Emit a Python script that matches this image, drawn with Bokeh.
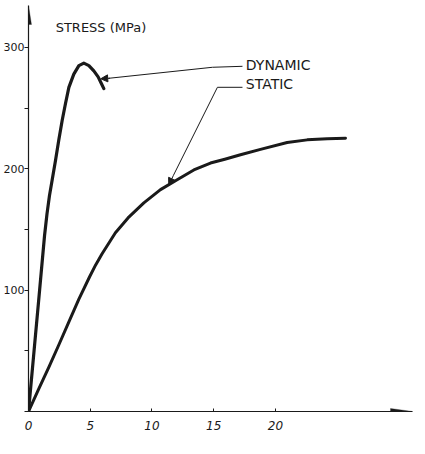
from bokeh.plotting import figure
from bokeh.models import Range1d, FixedTicker, Label, Arrow, NormalHead, PolyAnnotation
from bokeh.embed import file_html
from bokeh.resources import INLINE

# ---- data (strain %, stress MPa) ----
dyn_strain = [0, 0.45, 0.9, 1.3, 1.5, 1.7, 1.92, 2.19, 2.46, 2.73, 3.0, 3.27, 3.67,
              4.08, 4.48, 4.89, 5.29, 5.64, 5.91, 6.1]
dyn_stress = [0, 50, 100, 145, 163, 178, 191, 207, 224, 240, 254, 267, 278,
              285, 287, 285, 280.6, 275.7, 270, 266]

sta_strain = [0, 0.84, 1.65, 2.46, 3.27, 4.08, 4.95, 5.45, 5.96, 7.04, 8.06, 9.34, 10.69,
              12.04, 13.39, 14.74, 15.9, 17.17, 18.79, 20.95, 22.57, 24.19, 25.67]
sta_stress = [0, 18.9, 36.5, 55.0, 73.8, 92.6, 111.0, 121.0, 130.0, 147.3, 159.5, 171.9, 182.8,
              191, 199, 204.7, 207.8, 211.5, 216, 221.6, 223.8, 224.8, 225.2]

x_ticks = [0, 5, 10, 15, 20]
y_ticks = [0, 50, 100, 150, 200, 250, 300]
y_labels = {0: "", 50: "", 100: "100", 150: "", 200: "200", 250: "", 300: "300"}

XMAX = 31.1
YMAX = 334.5

FONT = "DejaVu Sans"
INK = "#1a1a1a"

p = figure(width=420, height=450,
           x_range=Range1d(0, XMAX), y_range=Range1d(0, YMAX),
           output_backend="svg", toolbar_location=None,
           min_border_left=0, min_border_right=8,
           min_border_top=5, min_border_bottom=39)
p.outline_line_color = None
p.xgrid.visible = False
p.ygrid.visible = False
p.background_fill_color = "white"
p.border_fill_color = "white"

# axes
for ax in (p.xaxis[0], p.yaxis[0]):
    ax.axis_line_color = INK
    ax.axis_line_width = 1.2
    ax.major_tick_line_color = INK
    ax.minor_tick_line_color = None
    ax.major_label_text_font = FONT
    ax.major_label_text_color = INK
    ax.major_label_text_font_size = "11px"

p.xaxis.ticker = FixedTicker(ticks=x_ticks)
p.xaxis.major_tick_in = 3
p.xaxis.major_tick_out = 0
p.xaxis.major_label_standoff = 9
p.xaxis.major_label_text_font_style = "italic"
p.xaxis.major_label_text_font_size = "12px"

p.yaxis.ticker = FixedTicker(ticks=y_ticks)
p.yaxis.major_label_overrides = y_labels
p.yaxis.major_tick_in = 0
p.yaxis.major_tick_out = 4
p.yaxis.major_label_standoff = 0

# axis arrowheads (narrow filled triangles at the ends of the axes)
px_x = 12.35   # approx pixels per strain unit
px_y = 1.213   # approx pixels per MPa
p.add_layout(PolyAnnotation(
    xs=[-3 / px_x, 0, 3 / px_x],
    ys=[YMAX - 19 / px_y, YMAX, YMAX - 19 / px_y],
    fill_color=INK, fill_alpha=1, line_color=INK, line_width=1))
p.add_layout(PolyAnnotation(
    xs=[XMAX - 22 / px_x, XMAX, XMAX - 22 / px_x],
    ys=[3 / px_y, 0, -3 / px_y],
    fill_color=INK, fill_alpha=1, line_color=INK, line_width=1))

# curves
p.line(dyn_strain, dyn_stress, line_color=INK, line_width=3.2, line_join="round", line_cap="round")
p.line(sta_strain, sta_stress, line_color=INK, line_width=3, line_join="round", line_cap="round")

# leader lines
p.line([17.33, 14.9, 6.48], [284.4, 283.6, 274.5], line_color=INK, line_width=1)
p.add_layout(Arrow(end=NormalHead(size=7, fill_color=INK, line_color=INK),
                   x_start=6.6, y_start=274.6, x_end=5.85, y_end=274.1,
                   line_color=INK, line_width=1))
p.line([17.33, 15.3, 11.74], [267.1, 267.1, 194.6], line_color=INK, line_width=1)
p.add_layout(Arrow(end=NormalHead(size=7, fill_color=INK, line_color=INK),
                   x_start=11.74, y_start=194.6, x_end=11.36, y_end=186.5,
                   line_color=INK, line_width=1))

# texts
p.add_layout(Label(x=17.6, y=285.5, text="DYNAMIC", text_font=FONT, text_font_size="14px",
                   text_baseline="middle", text_color=INK))
p.add_layout(Label(x=17.6, y=269.5, text="STATIC", text_font=FONT, text_font_size="14px",
                   text_baseline="middle", text_color=INK))
p.add_layout(Label(x=2.2, y=316, text="STRESS (MPa)", text_font=FONT, text_font_size="13px",
                   text_baseline="middle", text_color=INK))
p.add_layout(Label(x=XMAX + 0.45, y=-21, text="STRAIN (%)", text_font=FONT, text_font_size="13px",
                   text_baseline="middle", text_align="right", text_color=INK))

open("out.html", "w").write(file_html(p, INLINE))
